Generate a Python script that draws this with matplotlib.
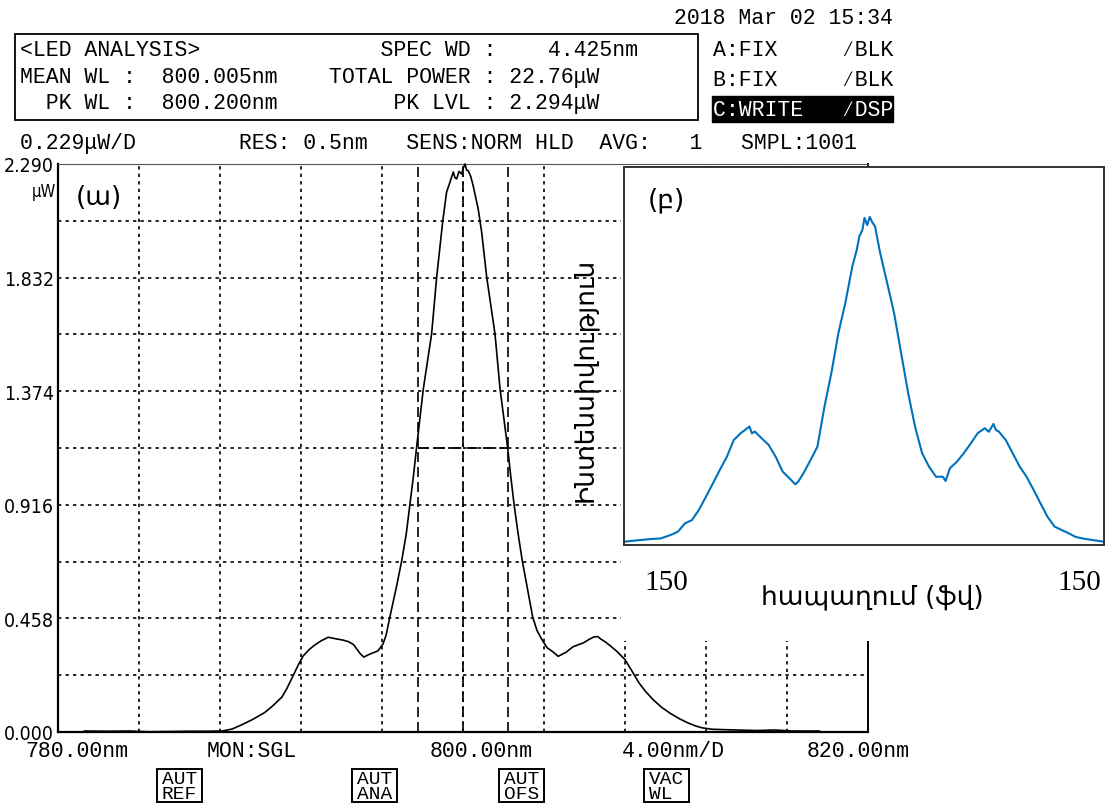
import matplotlib.pyplot as plt
import numpy as np
from matplotlib.patches import Rectangle

W, H = 1106, 804

# main OSA trace (wavelength nm, power uW)
wavelength = [781.3, 782.5, 783.5, 784.5, 785.5, 786.4, 787.3, 788.1, 788.6, 789.1,
              789.6, 790.2, 790.6, 791.06, 791.3, 791.6, 791.85, 792.1, 792.4, 792.65,
              793.0, 793.35, 793.7, 794.05, 794.35, 794.6, 794.9, 795.1, 795.4, 795.8,
              796.05, 796.2, 796.39, 796.7, 796.97, 797.2, 797.38, 797.55, 797.71, 798.04,
              798.45, 798.7, 799.0, 799.19, 799.35, 799.52, 799.6, 799.69, 799.8, 799.93,
              800.02, 800.1, 800.18, 800.26, 800.38, 800.5, 800.75, 800.92, 801.17, 801.58,
              801.83, 802.2, 802.36, 802.52, 802.72, 802.93, 803.2, 803.44, 803.65, 803.88,
              804.15, 804.46, 804.7, 805.1, 805.42, 805.7, 805.94, 806.2, 806.45, 806.65,
              806.8, 807.05, 807.31, 807.6, 808.0, 808.35, 808.69, 809.0, 809.38, 809.8,
              810.24, 810.7, 811.1, 811.5, 811.8, 812.3, 813.5, 814.5, 815.4, 816.3,
              817.6]
power_uw = [0.004, 0.003, 0.004, 0.001, 0.002, 0.003, 0.003, 0.004, 0.012, 0.030,
            0.050, 0.078, 0.105, 0.141, 0.175, 0.225, 0.268, 0.306, 0.332, 0.349,
            0.368, 0.382, 0.376, 0.371, 0.364, 0.352, 0.318, 0.302, 0.314, 0.327,
            0.355, 0.390, 0.464, 0.580, 0.689, 0.800, 0.919, 1.030, 1.149, 1.383,
            1.605, 1.834, 2.060, 2.177, 2.215, 2.258, 2.235, 2.230, 2.260, 2.250,
            2.275, 2.290, 2.265, 2.263, 2.240, 2.203, 2.109, 2.016, 1.834, 1.605,
            1.383, 1.149, 1.030, 0.919, 0.800, 0.689, 0.570, 0.464, 0.410, 0.375,
            0.340, 0.322, 0.305, 0.322, 0.343, 0.352, 0.359, 0.372, 0.383, 0.385,
            0.375, 0.362, 0.345, 0.325, 0.292, 0.245, 0.198, 0.165, 0.131, 0.100,
            0.075, 0.053, 0.037, 0.024, 0.017, 0.011, 0.008, 0.006, 0.008, 0.004,
            0.004]

# analysis markers
mean_wl = 800.005
spec_wd = 4.425
pk_lvl = 2.294

# inset trace (delay fs, normalised intensity)
delay_fs = [-150.0, -140.2, -133.7, -127.1, -120.6, -116.2, -111.9, -107.5, -103.2, -98.8,
            -94.4, -90.1, -85.7, -81.4, -77.0, -74.0, -71.6, -70.0, -68.3, -63.9,
            -59.6, -55.2, -50.9, -46.5, -43.0, -41.1, -37.8, -33.4, -29.1, -24.7,
            -20.4, -16.0, -11.7, -7.3, -4.5, -2.9, -1.0, 0.3, 2.0, 3.6,
            5.0, 6.9, 8.5, 10.1, 14.5, 18.8, 23.2, 27.6, 31.9, 36.3,
            40.6, 45.0, 49.3, 51.0, 53.7, 58.1, 62.4, 66.8, 71.1, 75.5,
            78.0, 80.9, 82.5, 84.2, 88.6, 92.9, 97.3, 101.6, 106.0, 110.3,
            114.7, 119.1, 123.4, 127.8, 132.1, 136.5, 143.0, 150.0]
intensity = [0.010, 0.015, 0.018, 0.020, 0.031, 0.041, 0.066, 0.076, 0.107, 0.147,
             0.188, 0.229, 0.269, 0.320, 0.341, 0.352, 0.361, 0.340, 0.346, 0.325,
             0.305, 0.269, 0.224, 0.203, 0.185, 0.193, 0.219, 0.259, 0.300, 0.422,
             0.524, 0.646, 0.737, 0.849, 0.900, 0.941, 0.960, 0.997, 0.975, 1.000,
             0.985, 0.971, 0.930, 0.890, 0.798, 0.707, 0.585, 0.463, 0.361, 0.280,
             0.239, 0.208, 0.208, 0.195, 0.234, 0.254, 0.280, 0.310, 0.341, 0.356,
             0.345, 0.369, 0.350, 0.346, 0.320, 0.280, 0.239, 0.208, 0.168, 0.127,
             0.086, 0.056, 0.046, 0.036, 0.025, 0.020, 0.015, 0.010]

y_labels = ['0.000', '', '0.458', '', '0.916', '', '1.374', '', '1.832', '', '2.290']
x_text = ['780.00nm', 'MON:SGL', '800.00nm', '4.00nm/D', '820.00nm']
buttons = ['AUT\nREF', 'AUT\nANA', 'AUT\nOFS', 'VAC\nWL ']

MONO = 'Liberation Mono'


def fx(x):
    return x / W


def fy(y):
    return 1 - y / H


fig = plt.figure(figsize=(W / 100, H / 100), dpi=100)


def put(x, y, s, **kw):
    kw.setdefault('family', MONO)
    kw.setdefault('fontsize', 15.5)
    kw.setdefault('va', 'center')
    return fig.text(fx(x), fy(y), s, **kw)


def box(x0, y0, x1, y1, **kw):
    r = Rectangle((fx(x0), fy(y1)), fx(x1) - fx(x0), fy(y0) - fy(y1),
                  transform=fig.transFigure, **kw)
    fig.add_artist(r)
    return r


# main OSA axes
ax = fig.add_axes([fx(58), fy(733), fx(868) - fx(58), fy(165) - fy(733)], zorder=0)
ax.plot(wavelength, power_uw, color='black', lw=1.2, clip_on=False, zorder=3)
ax.set_xlim(780, 820)
ax.set_ylim(0, 2.290)
ax.set_xticks(np.arange(780, 820.1, 4))
ax.set_xticklabels([])
ax.set_yticks(np.linspace(0, 2.290, 11))
ax.set_yticklabels(y_labels, family='DejaVu Sans', fontstretch='condensed', fontsize=14)
ax.tick_params(length=0, pad=3)
ax.grid(True, color='black', linestyle=(0, (2, 2.5)), lw=1.2)
for side in ['left', 'bottom']:
    ax.spines[side].set_linewidth(1.6)
ax.spines['top'].set_color('#555555')
ax.spines['right'].set_linewidth(1.4)

# spectral width markers
lo, hi = mean_wl - spec_wd / 2, mean_wl + spec_wd / 2
for w in [lo, mean_wl, hi]:
    ax.axvline(w, color='black', lw=1.2, linestyle=(0, (6, 3)), zorder=2)
ax.plot([lo, hi], [pk_lvl / 2, pk_lvl / 2], color='black', lw=1.3,
        linestyle=(0, (6, 3)), zorder=2)
put(56, 192, 'μW', family='DejaVu Sans', fontstretch='condensed', fontsize=12, ha='right')
ax.text(0.022, 0.965, '(ա)', transform=ax.transAxes, fontsize=19,
        family='DejaVu Sans', va='top')

# header
put(893, 18, '2018 Mar 02 15:34', ha='right')
box(15, 35, 698, 121, fill=False, edgecolor='black', lw=1.3)
put(20, 50, '<LED ANALYSIS>              SPEC WD :    4.425nm')
put(20, 78, 'MEAN WL :  800.005nm    TOTAL POWER : 22.76μW')
put(20, 104, '  PK WL :  800.200nm         PK LVL : 2.294μW')
box(712, 97, 893, 123, facecolor='black', edgecolor='black')
put(713, 50, 'A:FIX     ∕BLK')
put(713, 80, 'B:FIX     ∕BLK')
put(713, 110, 'C:WRITE   ∕DSP', color='white')
put(20, 143, '0.229μW/D        RES: 0.5nm   SENS:NORM HLD  AVG:   1   SMPL:1001')

# footer
for x, s in zip([25, 207, 430, 622, 807], x_text):
    put(x, 752, s)
for x0, s in zip([157, 352, 499, 644], buttons):
    box(x0, 770, x0 + 45, 803, fill=False, edgecolor='black', lw=1.4)
    put(x0 + 22.5, 787, s, fontsize=14, ha='center', linespacing=0.8)

# white cover under inset
box(621, 167.5, W, 642, facecolor='white', edgecolor='none', zorder=1)

# inset
axin = fig.add_axes([fx(624), fy(546), fx(1104) - fx(624), fy(168) - fy(546)], zorder=2)
axin.plot(delay_fs, intensity, color='#0072BD', lw=1.5)
axin.set_xlim(-150, 150)
axin.set_ylim(0, 1.152)
axin.set_xticks([])
axin.set_yticks([])
for s in axin.spines.values():
    s.set_color('#333333')
    s.set_linewidth(1.4)
axin.text(0.05, 0.95, '(բ)', transform=axin.transAxes, fontsize=19,
          family='DejaVu Sans', va='top')
fig.text(fx(666), fy(583), '150', family='Liberation Serif', fontsize=21,
         ha='center', va='center', zorder=3)
fig.text(fx(1079), fy(583), '150', family='Liberation Serif', fontsize=21,
         ha='center', va='center', zorder=3)
fig.text(fx(872), fy(597), 'հապաղում (ֆվ)', family='DejaVu Sans', fontsize=19,
         ha='center', va='center', zorder=3)
fig.text(fx(585), fy(380), 'Ինտենսիվություն', family='DejaVu Sans', fontsize=19,
         rotation=90, ha='center', va='center', zorder=3)

fig.savefig('out.png', dpi=100, facecolor='white')
